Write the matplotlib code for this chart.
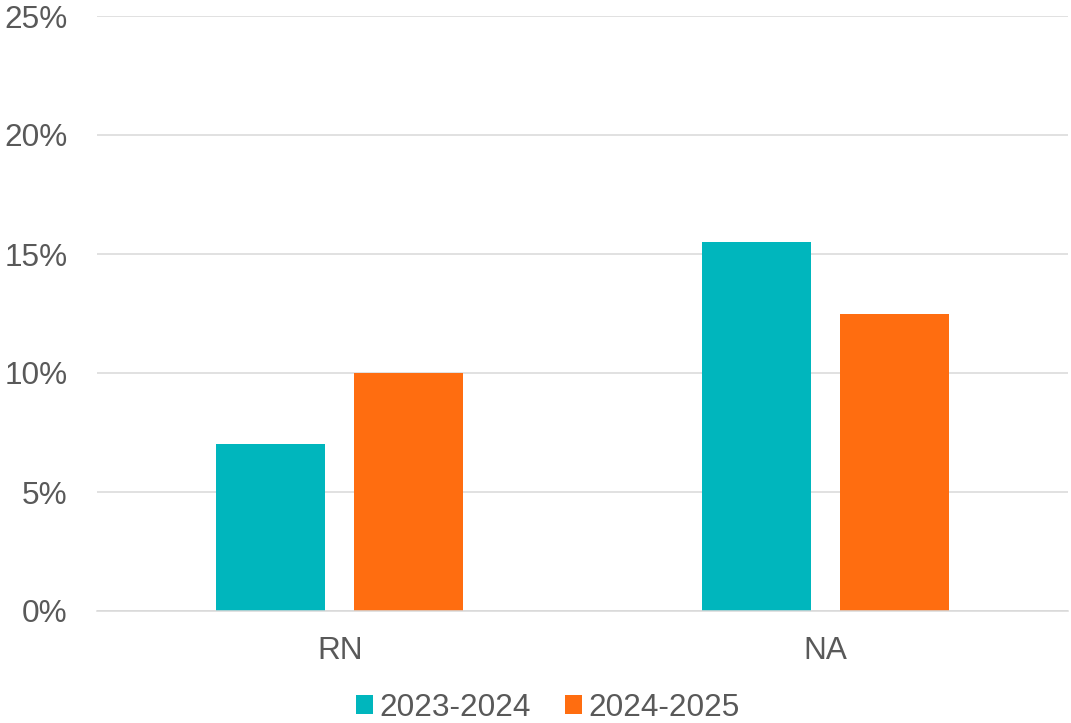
import matplotlib
matplotlib.use("Agg")
import matplotlib.pyplot as plt
import numpy as np
from matplotlib.patches import Patch

categories = ["RN", "NA"]
series_names = ["2023-2024", "2024-2025"]
values_2023_2024 = [7.0, 15.5]
values_2024_2025 = [10.0, 12.5]
y_ticks = [0, 5, 10, 15, 20, 25]
y_tick_labels = ["0%", "5%", "10%", "15%", "20%", "25%"]

teal = "#00B6BD"
orange = "#FF6D10"
text_color = "#595959"
grid_color = "#D9D9D9"

plt.rcParams["font.family"] = ["Liberation Sans", "DejaVu Sans"]

fig = plt.figure(figsize=(10.71, 7.23), dpi=100)
ax = fig.add_axes([97 / 1071, 1 - 611 / 723, (1068 - 97) / 1071, (611 - 16) / 723])

x = np.arange(len(categories))
bw = 0.2245
off = 0.1426
ax.bar(x - off, values_2023_2024, width=bw, color=teal, zorder=3)
ax.bar(x + off, values_2024_2025, width=bw, color=orange, zorder=3)

ax.set_xlim(-0.5, 1.5)
ax.set_ylim(0, 25)
ax.set_yticks(y_ticks)
ax.set_yticklabels(y_tick_labels)
ax.set_xticks(x)
ax.set_xticklabels(categories)

ax.yaxis.grid(True, color=grid_color, linewidth=1.1, zorder=0)
ax.set_axisbelow(True)
for s in ["top", "right", "left"]:
    ax.spines[s].set_visible(False)
ax.spines["bottom"].set_color(grid_color)
ax.spines["bottom"].set_linewidth(1.1)
ax.spines["bottom"].set_zorder(4)

ax.tick_params(axis="y", length=0, pad=21, labelsize=22.7, labelcolor=text_color)
ax.tick_params(axis="x", length=0, pad=18, labelsize=22.7, labelcolor=text_color)

handles = [Patch(facecolor=teal), Patch(facecolor=orange)]
fig.legend(handles, series_names, loc="center", bbox_to_anchor=(548 / 1071, 1 - 708 / 723),
           ncol=2, frameon=False, fontsize=22.7, labelcolor=text_color,
           handlelength=0.54, handleheight=0.54, handletextpad=0.19, columnspacing=1.1,
           borderpad=0, borderaxespad=0)

fig.savefig("out.png", dpi=100)
